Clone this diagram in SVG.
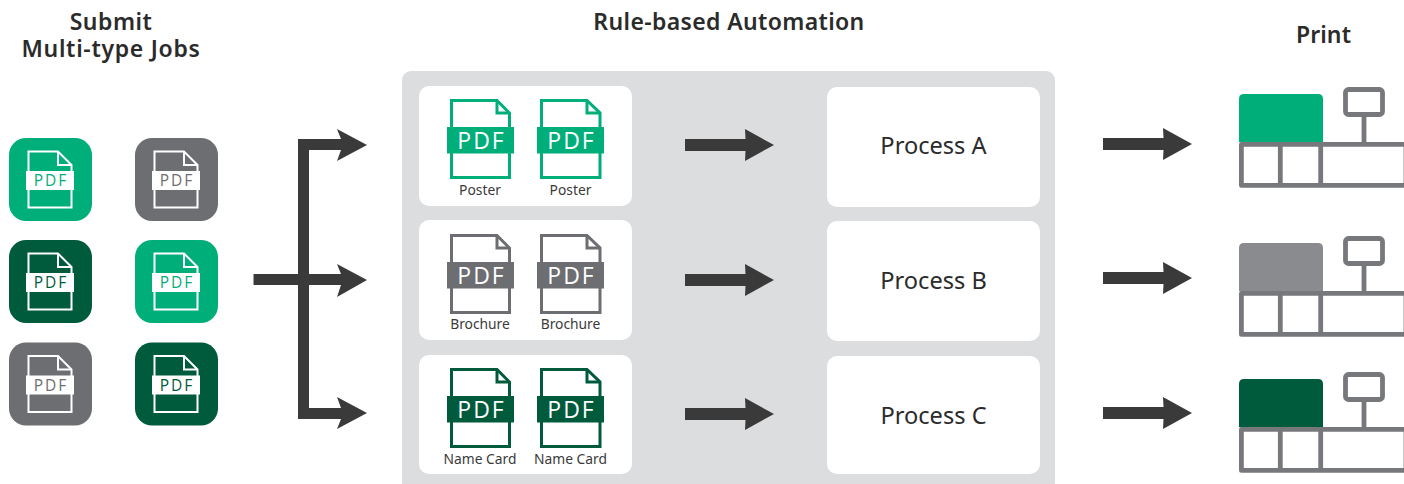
<svg xmlns="http://www.w3.org/2000/svg" width="1404" height="484" viewBox="0 0 1404 484">
<style>
.t{font-family:"Noto Sans","Open Sans",sans-serif;fill:#2b2b2b}
.h{font-size:23px;font-weight:600;text-anchor:middle}
.p{font-size:23.600px;text-anchor:middle}
.c{font-size:13.800px;text-anchor:middle;fill:#3a3a3a}
.pdf{font-family:"Open Sans","Noto Sans",sans-serif;text-anchor:middle;letter-spacing:2px}
.card{fill:#fff}
.ar{fill:#3a3a3a}
.tb{fill:none;stroke:#77787b;stroke-width:4.800;stroke-linejoin:round}
.sd{fill:none;stroke:#fff;stroke-width:2}
</style>
<defs>
<path id="arrow" class="ar" d="M0-6H60.500L60-16 89 0 60 16 60.500 6H0Z"/>
<g id="tbl"><path class="tb" d="M1241.400 144.400H1406V185.400H1241.400ZM1280.300 144.400V185.400M1320.700 144.400V185.400M1364 144.400V114.500"/><rect class="tb" x="1345.500" y="89.500" width="37" height="25" rx="3"/></g>
</defs>
<rect width="1404" height="484" fill="#fff"/>
<text class="t h" x="111" y="30" letter-spacing="0.500"><tspan x="111">Submit</tspan><tspan x="111" dy="27" letter-spacing="0.700">Multi-type Jobs</tspan></text>
<text class="t h" x="729" y="30" letter-spacing="0.360">Rule-based Automation</text>
<text class="t h" x="1323.500" y="43" letter-spacing="0.100">Print</text>
<g id="job1" transform="translate(9,138)"><rect width="83" height="83" rx="17" fill="#00ae7a"/><path class="sd" d="M19.500 13.500H49L62.500 27V69.500H19.500Z"/><path class="sd" d="M49 14V27H62"/><rect x="17" y="33" width="48" height="19" fill="#fff"/><text class="pdf" x="42" y="48" font-size="15.500" fill="#00ae7a">PDF</text></g>
<g id="job2" transform="translate(135,138)"><rect width="83" height="83" rx="17" fill="#6d6e71"/><path class="sd" d="M19.500 13.500H49L62.500 27V69.500H19.500Z"/><path class="sd" d="M49 14V27H62"/><rect x="17" y="33" width="48" height="19" fill="#fff"/><text class="pdf" x="42" y="48" font-size="15.500" fill="#6d6e71">PDF</text></g>
<g id="job3" transform="translate(9,240)"><rect width="83" height="83" rx="17" fill="#005a3c"/><path class="sd" d="M19.500 13.500H49L62.500 27V69.500H19.500Z"/><path class="sd" d="M49 14V27H62"/><rect x="17" y="33" width="48" height="19" fill="#fff"/><text class="pdf" x="42" y="48" font-size="15.500" fill="#005a3c">PDF</text></g>
<g id="job4" transform="translate(135,240)"><rect width="83" height="83" rx="17" fill="#00ae7a"/><path class="sd" d="M19.500 13.500H49L62.500 27V69.500H19.500Z"/><path class="sd" d="M49 14V27H62"/><rect x="17" y="33" width="48" height="19" fill="#fff"/><text class="pdf" x="42" y="48" font-size="15.500" fill="#00ae7a">PDF</text></g>
<g id="job5" transform="translate(9,342.500)"><rect width="83" height="83" rx="17" fill="#6d6e71"/><path class="sd" d="M19.500 13.500H49L62.500 27V69.500H19.500Z"/><path class="sd" d="M49 14V27H62"/><rect x="17" y="33" width="48" height="19" fill="#fff"/><text class="pdf" x="42" y="48" font-size="15.500" fill="#6d6e71">PDF</text></g>
<g id="job6" transform="translate(135,342.500)"><rect width="83" height="83" rx="17" fill="#005a3c"/><path class="sd" d="M19.500 13.500H49L62.500 27V69.500H19.500Z"/><path class="sd" d="M49 14V27H62"/><rect x="17" y="33" width="48" height="19" fill="#fff"/><text class="pdf" x="42" y="48" font-size="15.500" fill="#005a3c">PDF</text></g>
<g id="panel"><rect x="402" y="71" width="653" height="420" rx="9" fill="#dcddde"/></g>
<g id="card-a"><rect class="card" x="419" y="86" width="213" height="120" rx="10"/>
<path d="M451.500 100.500H497L509.500 113V177.500H451.500Z" fill="none" stroke="#00ae7a" stroke-width="3"/><path d="M497 101V113H509" fill="none" stroke="#00ae7a" stroke-width="3"/><rect x="447" y="127" width="67" height="26.500" fill="#00ae7a"/><text class="pdf" x="481.500" y="149" font-size="23" fill="#fff">PDF</text>
<path d="M541.500 100.500H587L600 113V177.500H541.500Z" fill="none" stroke="#00ae7a" stroke-width="3"/><path d="M587 101V113H599" fill="none" stroke="#00ae7a" stroke-width="3"/><rect x="537" y="127" width="67" height="26.500" fill="#00ae7a"/><text class="pdf" x="571.500" y="149" font-size="23" fill="#fff">PDF</text>
<text class="t c" x="480" y="195">Poster</text><text class="t c" x="570.500" y="195">Poster</text></g>
<g id="card-b"><rect class="card" x="419" y="220" width="213" height="120" rx="10"/>
<path d="M451.500 235.500H497L509.500 248V312.500H451.500Z" fill="none" stroke="#6d6e71" stroke-width="3"/><path d="M497 236V248H509" fill="none" stroke="#6d6e71" stroke-width="3"/><rect x="447" y="262" width="67" height="26.500" fill="#6d6e71"/><text class="pdf" x="481.500" y="284" font-size="23" fill="#fff">PDF</text>
<path d="M541.500 235.500H587L600 248V312.500H541.500Z" fill="none" stroke="#6d6e71" stroke-width="3"/><path d="M587 236V248H599" fill="none" stroke="#6d6e71" stroke-width="3"/><rect x="537" y="262" width="67" height="26.500" fill="#6d6e71"/><text class="pdf" x="571.500" y="284" font-size="23" fill="#fff">PDF</text>
<text class="t c" x="480" y="329">Brochure</text><text class="t c" x="570.500" y="329">Brochure</text></g>
<g id="card-c"><rect class="card" x="419" y="355" width="213" height="119" rx="10"/>
<path d="M451.500 369.500H497L509.500 382V446.500H451.500Z" fill="none" stroke="#005a3c" stroke-width="3"/><path d="M497 370V382H509" fill="none" stroke="#005a3c" stroke-width="3"/><rect x="447" y="396" width="67" height="26.500" fill="#005a3c"/><text class="pdf" x="481.500" y="418" font-size="23" fill="#fff">PDF</text>
<path d="M541.500 369.500H587L600 382V446.500H541.500Z" fill="none" stroke="#005a3c" stroke-width="3"/><path d="M587 370V382H599" fill="none" stroke="#005a3c" stroke-width="3"/><rect x="537" y="396" width="67" height="26.500" fill="#005a3c"/><text class="pdf" x="571.500" y="418" font-size="23" fill="#fff">PDF</text>
<text class="t c" x="480" y="464">Name Card</text><text class="t c" x="570.500" y="464">Name Card</text></g>
<g id="process-a"><rect class="card" x="827" y="87" width="213" height="120" rx="10"/><text class="t p" x="933.500" y="154">Process A</text></g>
<g id="process-b"><rect class="card" x="827" y="221" width="213" height="120" rx="10"/><text class="t p" x="933.500" y="289">Process B</text></g>
<g id="process-c"><rect class="card" x="827" y="356" width="213" height="118" rx="10"/><text class="t p" x="933.500" y="424">Process C</text></g>
<g id="printer-a"><path d="M1239 142V99Q1239 94 1244 94H1318Q1323 94 1323 99V142Z" fill="#00ae7a"/><use href="#tbl"/></g>
<g id="printer-b" transform="translate(0,149)"><path d="M1239 142V99Q1239 94 1244 94H1318Q1323 94 1323 99V142Z" fill="#8a8b8e"/><use href="#tbl"/></g>
<g id="printer-c" transform="translate(0,285)"><path d="M1239 142V99Q1239 94 1244 94H1318Q1323 94 1323 99V142Z" fill="#005a3c"/><use href="#tbl"/></g>
<g id="connectors">
<path class="ar" d="M298 419V139H341L337 129 367 145 337 161 341 150H309V274H341L337 264 367 280 337 297 341 285H309V408H341L337 397 367 413 337 429 341 419Z"/>
<rect class="ar" x="253.500" y="274" width="50" height="11"/>
<use href="#arrow" x="685" y="145"/><use href="#arrow" x="685" y="280"/><use href="#arrow" x="685" y="414"/>
<use href="#arrow" x="1103" y="144"/><use href="#arrow" x="1103" y="278"/><use href="#arrow" x="1103" y="413"/>
</g>
</svg>
